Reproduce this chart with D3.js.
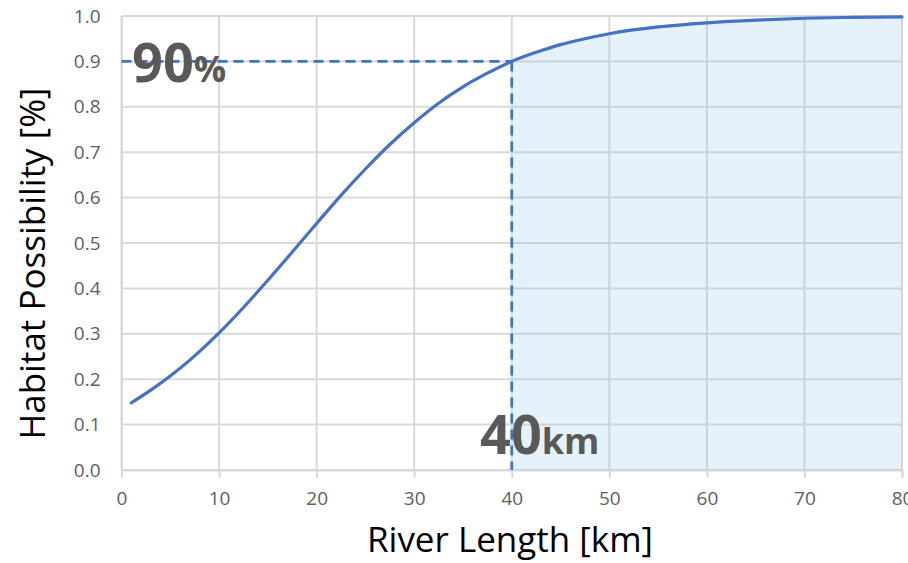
<!DOCTYPE html>
<html>
<head>
<meta charset="utf-8">
<script src="https://cdn.jsdelivr.net/npm/d3@7"></script>
<style>
  body { margin: 0; background: #fff; }
  svg { display: block; font-family: "Open Sans", "Noto Sans", sans-serif; }
</style>
</head>
<body>
<svg id="chart"></svg>
<script>
// river length (km)
const lengths = [1, 3, 5, 7, 10, 12.5, 15, 17.5, 20, 22.5, 25, 27.5, 30, 32.5, 35, 37.5,
  40, 42.5, 45, 47.5, 50, 55, 60, 65, 70, 75, 80];
// habitat possibility at each length
const possibility = [0.148, 0.176, 0.207, 0.242, 0.302, 0.358, 0.418, 0.480, 0.543, 0.605,
  0.663, 0.717, 0.765, 0.808, 0.844, 0.874, 0.900, 0.920, 0.937, 0.950, 0.961, 0.976,
  0.985, 0.991, 0.995, 0.997, 0.998];
const xTicks = [0, 10, 20, 30, 40, 50, 60, 70, 80];
const yTicks = [0, 0.1, 0.2, 0.3, 0.4, 0.5, 0.6, 0.7, 0.8, 0.9, 1.0];
const markLength = 40;
const markValue = 0.9;

const width = 908, height = 563;
const margin = { top: 16, right: 6, bottom: 93, left: 121.5 };

const data = lengths.map((d, i) => ({ x: d, y: possibility[i] }));

const svg = d3.select("#chart").attr("width", width).attr("height", height);

const x = d3.scaleLinear().domain([0, 80]).range([margin.left, width - margin.right]);
const y = d3.scaleLinear().domain([0, 1]).range([height - margin.bottom, margin.top]);

// gridlines
svg.append("g")
  .selectAll("line")
  .data(xTicks)
  .join("line")
  .attr("x1", d => x(d)).attr("x2", d => x(d))
  .attr("y1", y(0)).attr("y2", y(1))
  .attr("stroke", "#d9d9d9").attr("stroke-width", 2);

svg.append("g")
  .selectAll("line")
  .data(yTicks)
  .join("line")
  .attr("x1", x(0)).attr("x2", x(80))
  .attr("y1", d => y(d)).attr("y2", d => y(d))
  .attr("stroke", "#d9d9d9").attr("stroke-width", 2);

// x axis
const xAxis = svg.append("g")
  .attr("transform", `translate(0,${y(0)})`)
  .call(d3.axisBottom(x).tickValues(xTicks).tickSize(8).tickPadding(14));
xAxis.select(".domain").attr("stroke", "#d9d9d9").attr("stroke-width", 2);
xAxis.selectAll(".tick line").attr("stroke", "#d9d9d9").attr("stroke-width", 2);
xAxis.selectAll("text").attr("fill", "#606060").attr("font-size", 19)
  .attr("font-family", "Open Sans, sans-serif");

// y axis
const yAxis = svg.append("g")
  .attr("transform", `translate(${x(0)},0)`)
  .call(d3.axisLeft(y).tickValues(yTicks).tickSize(0).tickPadding(21).tickFormat(d3.format(".1f")));
yAxis.select(".domain").attr("stroke", "#d9d9d9").attr("stroke-width", 2);
yAxis.selectAll("text").attr("fill", "#606060").attr("font-size", 19)
  .attr("font-family", "Open Sans, sans-serif");

// shaded region beyond the mark
const shade = data.filter(d => d.x >= markLength);
svg.append("path")
  .datum(shade)
  .attr("fill", "#9ccbf0")
  .attr("fill-opacity", 0.25)
  .attr("d", d3.area().x(d => x(d.x)).y0(y(0)).y1(d => y(d.y)).curve(d3.curveMonotoneX));

// dashed guides
const dash = svg.append("g")
  .attr("stroke", "#4472c4").attr("stroke-width", 2.8).attr("stroke-dasharray", "10,6").attr("fill", "none");
dash.append("line")
  .attr("x1", x(0)).attr("x2", x(markLength))
  .attr("y1", y(markValue)).attr("y2", y(markValue));
dash.append("line")
  .attr("x1", x(markLength)).attr("x2", x(markLength))
  .attr("y1", y(markValue)).attr("y2", y(0));

// curve
svg.append("path")
  .datum(data)
  .attr("fill", "none")
  .attr("stroke", "#4472c4")
  .attr("stroke-width", 3.2)
  .attr("stroke-linecap", "round")
  .attr("d", d3.line().x(d => x(d.x)).y(d => y(d.y)).curve(d3.curveMonotoneX));

// annotations
const pct = svg.append("text")
  .attr("x", 132).attr("y", 82)
  .attr("fill", "#595959").attr("font-weight", "bold");
pct.append("tspan").attr("font-size", 54).text("90");
pct.append("tspan").attr("font-size", 36).text("%");

const km = svg.append("text")
  .attr("x", 480).attr("y", 454)
  .attr("fill", "#595959").attr("font-weight", "bold");
km.append("tspan").attr("font-size", 54).text("40");
km.append("tspan").attr("font-size", 36).text("km");

// axis titles
svg.append("text")
  .attr("x", 510)
  .attr("y", 552)
  .attr("text-anchor", "middle")
  .attr("font-size", 35)
  .attr("fill", "#000")
  .text("River Length [km]");

svg.append("text")
  .attr("transform", "translate(45,263.5) rotate(-90)")
  .attr("text-anchor", "middle")
  .attr("font-size", 35)
  .attr("fill", "#000")
  .text("Habitat Possibility [%]");
</script>
</body>
</html>
